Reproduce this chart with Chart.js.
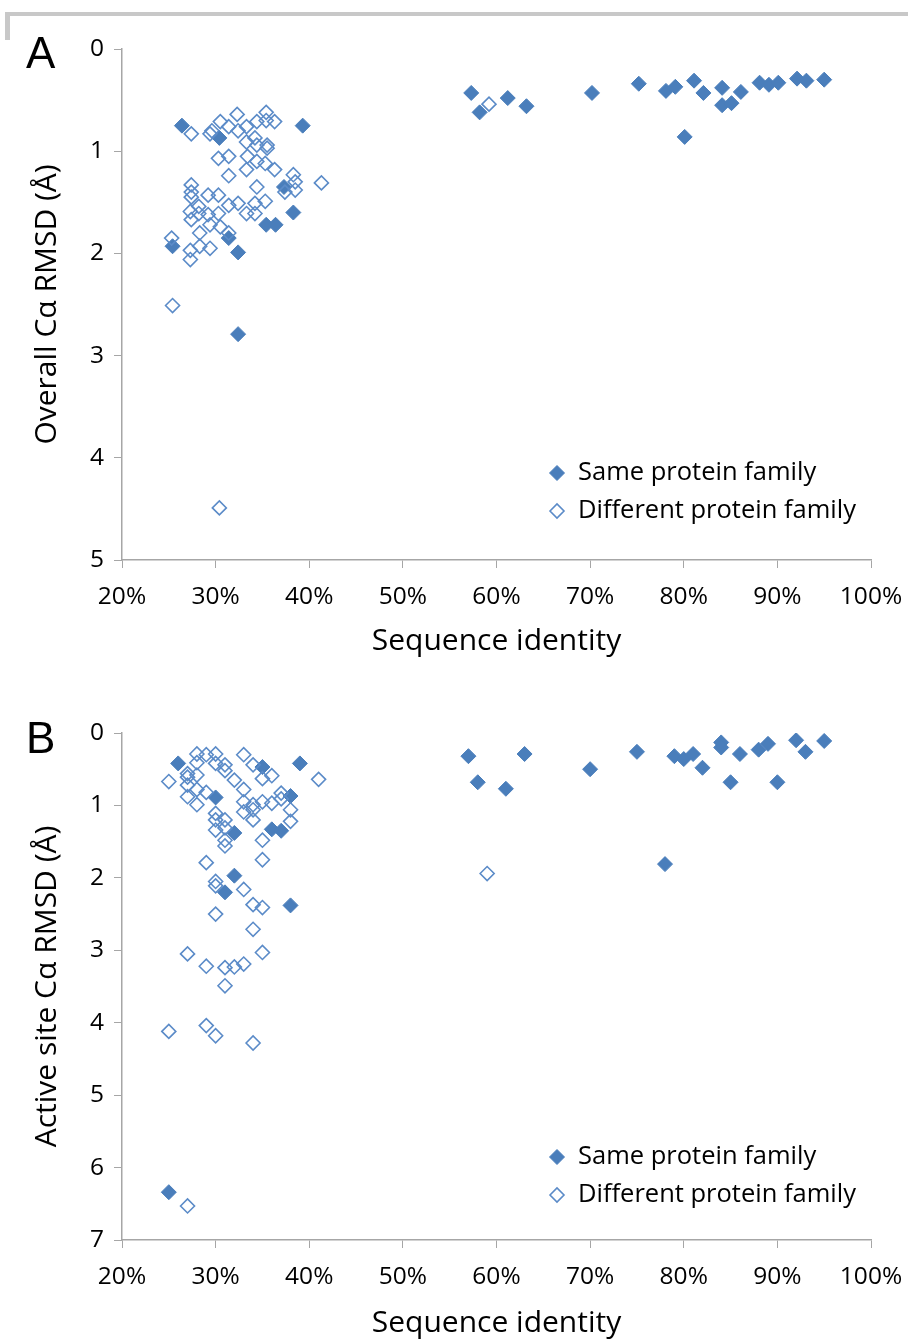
<!DOCTYPE html>
<html lang="en">
<head>
<meta charset="UTF-8">
<title>RMSD vs sequence identity</title>
<script src="https://cdn.jsdelivr.net/npm/chart.js"></script>
<style>
    body { margin: 0; background: #fff; }
    .page { position: relative; width: 908px; height: 1339px; overflow: hidden; background: #fff; }
    .frame-top { position: absolute; left: 5px; top: 12px; width: 903px; height: 4px; background: #c8c8c8; }
    .frame-left { position: absolute; left: 5px; top: 12px; width: 5px; height: 28px; background: #c8c8c8; }
    .panel { position: absolute; left: 0; width: 908px; }
    .letter { position: absolute; font-family: "Liberation Sans", Arial, sans-serif; font-size: 44px; color: #000; line-height: 1; }
</style>
</head>
<body>
<div class="page">
    <div class="frame-top"></div>
    <div class="frame-left"></div>
    <div class="panel" style="top:0;height:670px"><canvas id="chartA"></canvas></div>
    <div class="panel" style="top:684px;height:661px"><canvas id="chartB"></canvas></div>
    <div class="letter" style="left:26px;top:31px">A</div>
    <div class="letter" style="left:26px;top:716px">B</div>
</div>

<script>
    // Panel A - overall C-alpha RMSD
    const aSameX = [26.4, 30.4, 39.3, 37.3, 38.3, 35.4, 36.4, 31.4, 32.4, 25.4, 32.4,
        57.3, 58.2, 61.2, 63.2, 70.2, 75.2, 78.1, 79.1, 81.1, 82.1, 84.1, 84.1, 85.1, 86.1, 80.1,
        88.1, 89.1, 90.1, 92.1, 93.1, 95.0];
    const aSameY = [0.75, 0.87, 0.75, 1.35, 1.60, 1.72, 1.72, 1.85, 1.99, 1.93, 2.79,
        0.43, 0.62, 0.48, 0.56, 0.43, 0.34, 0.41, 0.37, 0.31, 0.43, 0.38, 0.55, 0.53, 0.42, 0.86,
        0.33, 0.35, 0.33, 0.29, 0.31, 0.30];
    const aDiffX = [27.4, 32.3, 35.4, 36.3, 35.4, 34.4, 33.3, 32.4, 31.4, 30.5, 29.4, 29.6,
        33.3, 34.2, 34.4, 35.5, 35.5, 30.3, 31.4, 33.4, 34.4, 35.3, 36.3, 33.3, 31.4, 38.3,
        41.3, 38.5, 27.4, 34.4, 38.5, 37.4, 27.4, 27.4, 29.2, 30.3, 32.4, 31.4, 34.2, 35.3,
        33.3, 34.2, 28.2, 27.3, 28.2, 27.4, 29.2, 30.3, 29.4, 30.5, 31.4, 28.3, 25.3, 27.3,
        28.3, 29.4, 27.3, 25.4, 30.4, 59.2];
    const aDiffY = [0.83, 0.64, 0.62, 0.71, 0.70, 0.71, 0.76, 0.80, 0.76, 0.71, 0.83, 0.80,
        0.91, 0.87, 0.94, 0.94, 0.97, 1.07, 1.05, 1.05, 1.10, 1.12, 1.18, 1.18, 1.24, 1.23,
        1.31, 1.30, 1.33, 1.35, 1.38, 1.40, 1.40, 1.45, 1.43, 1.43, 1.51, 1.53, 1.51, 1.49,
        1.61, 1.61, 1.54, 1.59, 1.61, 1.67, 1.62, 1.61, 1.72, 1.74, 1.80, 1.80, 1.85, 1.97,
        1.93, 1.95, 2.06, 2.51, 4.49, 0.54];

    // Panel B - active site C-alpha RMSD
    const bSameX = [26, 30, 35, 39, 38, 32, 36, 37, 32, 31, 38, 25,
        57, 58, 63, 61, 70, 75, 79, 80, 81, 82, 84, 84, 85, 86, 88, 89, 90, 92, 93, 95, 78];
    const bSameY = [0.42, 0.89, 0.47, 0.42, 0.87, 1.38, 1.33, 1.35, 1.97, 2.20, 2.38, 6.34,
        0.32, 0.68, 0.29, 0.77, 0.50, 0.26, 0.32, 0.36, 0.29, 0.48, 0.13, 0.20, 0.68, 0.29,
        0.23, 0.15, 0.68, 0.10, 0.26, 0.11, 1.81];
    const bDiffX = [25, 28, 29, 30, 31, 31, 30, 28, 27, 27, 28, 32, 33, 34, 35, 36, 41,
        27, 28, 29, 27, 28, 33, 33, 37, 37, 36, 35, 34, 38, 38, 34, 33, 30, 31, 30, 34,
        30, 31, 31, 35, 31, 29, 35, 30, 30, 33, 34, 35, 30, 34, 27, 35, 29, 31, 32, 33,
        31, 25, 29, 30, 34, 27, 59];
    const bDiffY = [0.67, 0.29, 0.30, 0.29, 0.44, 0.52, 0.42, 0.41, 0.56, 0.61, 0.58, 0.65,
        0.30, 0.44, 0.63, 0.59, 0.64, 0.72, 0.78, 0.82, 0.88, 0.99, 0.78, 0.95, 0.83, 0.91,
        0.97, 0.95, 0.99, 1.06, 1.22, 1.06, 1.09, 1.11, 1.20, 1.20, 1.20, 1.34, 1.31, 1.48,
        1.48, 1.56, 1.79, 1.75, 2.05, 2.11, 2.16, 2.37, 2.41, 2.50, 2.71, 3.05, 3.03, 3.22,
        3.24, 3.23, 3.19, 3.49, 4.12, 4.04, 4.18, 4.28, 6.53, 1.94];

    const seriesNames = ["Same protein family", "Different protein family"];
    const blue = "#4a7ebb";
    const fontName = "'Open Sans', sans-serif";

    function toPoints(xs, ys) {
        return xs.map((x, i) => ({ x: x, y: ys[i] }));
    }

    // legend drawn inside the plot area, like the original
    const insideLegend = {
        id: "insideLegend",
        afterDatasetsDraw(chart, args, opts) {
            const ctx = chart.ctx;
            const area = chart.chartArea;
            ctx.save();
            ctx.font = "25.5px " + fontName;
            ctx.textBaseline = "middle";
            chart.data.datasets.forEach((ds, i) => {
                const y = area.bottom - opts.rows[i];
                const x = area.right - opts.fromRight;
                const r = ds.pointRadius;
                ctx.fillStyle = ds.backgroundColor;
                ctx.strokeStyle = ds.borderColor;
                ctx.lineWidth = ds.borderWidth;
                ctx.beginPath();
                ctx.moveTo(x - r, y);
                ctx.lineTo(x, y - r);
                ctx.lineTo(x + r, y);
                ctx.lineTo(x, y + r);
                ctx.closePath();
                ctx.fill();
                ctx.stroke();
                ctx.fillStyle = "#000";
                ctx.fillText(ds.label, x + 21, y);
            });
            ctx.restore();
        }
    };

    function makePanel(id, sameX, sameY, diffX, diffY, yMax, yTitle, xBox, titlePad, legendRows) {
        const canvas = document.getElementById(id);
        return new Chart(canvas, {
            type: "scatter",
            data: {
                datasets: [
                    {
                        label: seriesNames[0],
                        data: toPoints(sameX, sameY),
                        pointStyle: "rectRot",
                        pointRadius: 7.5,
                        backgroundColor: blue,
                        borderColor: blue,
                        borderWidth: 1,
                        order: 2
                    },
                    {
                        label: seriesNames[1],
                        data: toPoints(diffX, diffY),
                        pointStyle: "rectRot",
                        pointRadius: 7,
                        backgroundColor: "rgba(255,255,255,0)",
                        borderColor: "#5b8bc8",
                        borderWidth: 1.6,
                        order: 1
                    }
                ]
            },
            options: {
                responsive: true,
                maintainAspectRatio: false,
                animation: false,
                events: [],
                layout: { padding: { top: 49, right: 37, left: 0, bottom: 0 } },
                plugins: {
                    legend: { display: false },
                    tooltip: { enabled: false },
                    insideLegend: { rows: legendRows, fromRight: 314 }
                },
                scales: {
                    x: {
                        type: "linear",
                        min: 20,
                        max: 100,
                        afterFit: s => {
                            s.height = xBox;
                            s.paddingLeft = 0;
                            s.paddingRight = 0;
                        },
                        ticks: {
                            stepSize: 10,
                            padding: 14,
                            color: "#000",
                            font: { family: fontName, size: 24.5 },
                            callback: v => v + "%"
                        },
                        grid: { drawOnChartArea: false, drawTicks: true, tickLength: 8, color: "#a6a6a6" },
                        border: { display: true, color: "#a6a6a6", width: 1.5 },
                        title: {
                            display: true,
                            text: "Sequence identity",
                            color: "#000",
                            font: { family: fontName, size: 30 },
                            padding: { top: 0, bottom: titlePad }
                        }
                    },
                    y: {
                        type: "linear",
                        min: 0,
                        max: yMax,
                        reverse: true,
                        afterFit: s => { s.width = 122; },
                        ticks: {
                            stepSize: 1,
                            padding: 10,
                            color: "#000",
                            font: { family: fontName, size: 24.5 }
                        },
                        grid: { drawOnChartArea: false, drawTicks: true, tickLength: 8, color: "#a6a6a6" },
                        border: { display: true, color: "#a6a6a6", width: 1.5 },
                        title: {
                            display: true,
                            text: yTitle,
                            color: "#000",
                            font: { family: fontName, size: 30 },
                            padding: { top: 29, bottom: 0 }
                        }
                    }
                }
            },
            plugins: [insideLegend]
        });
    }

    makePanel("chartA", aSameX, aSameY, aDiffX, aDiffY, 5, "Overall C\u03b1 RMSD (\u00c5)", 110, 11, [87, 49]);
    makePanel("chartB", bSameX, bSameY, bDiffX, bDiffY, 7, "Active site C\u03b1 RMSD (\u00c5)", 105, 4, [83, 45]);
</script>
</body>
</html>
